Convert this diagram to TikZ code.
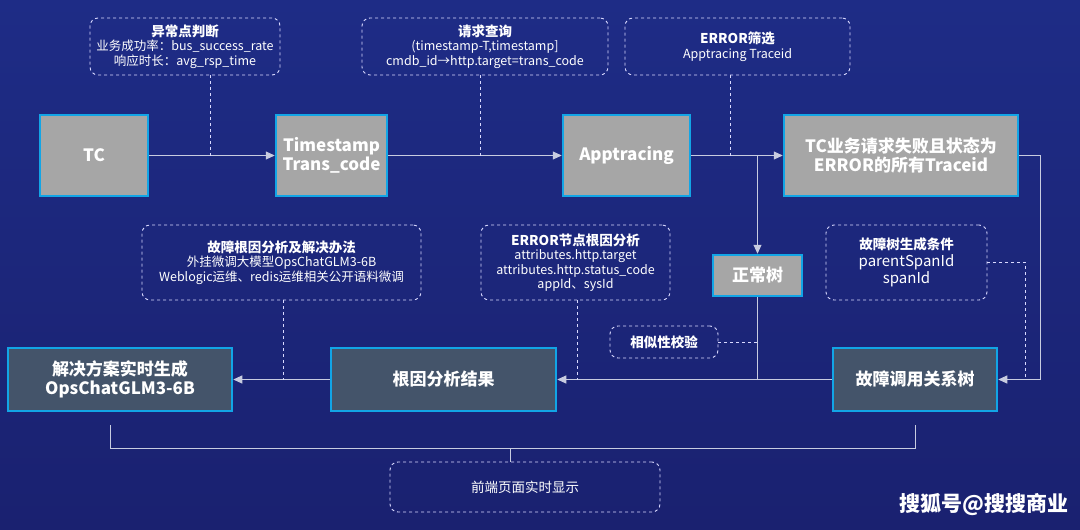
\documentclass[tikz,border=0pt]{standalone}
\usepackage{fontspec}
\setmainfont{Noto Sans CJK SC}
\usetikzlibrary{arrows.meta}
\definecolor{bgA}{HTML}{1E2C86}
\definecolor{bgB}{HTML}{1A2170}
\definecolor{cy}{HTML}{12A5E6}
\definecolor{gr}{HTML}{A6A6A6}
\definecolor{dk}{HTML}{44546A}
\definecolor{ln}{HTML}{C8CCE0}
\begin{document}
\begin{tikzpicture}[x=1pt,y=-1pt,
  solid box/.style={draw=cy,line width=2.5pt,text=white,font=\bfseries\fontsize{17}{19}\selectfont,align=center,inner sep=0},
  gbox/.style={solid box,fill=gr},
  dbox/.style={solid box,fill=dk},
  dbx/.style={draw=white!85!blue,dashed,line width=0.9pt,rounded corners=8pt,text=white,align=center,inner sep=0,font=\fontsize{12.5}{14.5}\selectfont},
  dl/.style={white!85!blue,dashed,line width=0.8pt},
  ar/.style={ln,line width=1pt,-{Triangle[width=8pt,length=9pt]}},
  pl/.style={ln,line width=1pt}]
\shade[top color=bgA,bottom color=bgB] (0,0) rectangle (1080,530);
\useasboundingbox (0,0) rectangle (1080,530);
% solid boxes
\node[gbox,minimum width=108,minimum height=81] (tc) at (94,155.5) {TC};
\node[gbox,minimum width=111,minimum height=81] (ts) at (331.5,155.5) {Timestamp\\Trans\_code};
\node[gbox,minimum width=127,minimum height=81] (ap) at (626.5,155.5) {Apptracing};
\node[gbox,minimum width=234,minimum height=81] (er) at (901,155.5) {TC业务请求失败且状态为\\ERROR的所有Traceid};
\node[gbox,minimum width=89,minimum height=41] (zc) at (757.5,275.5) {正常树};
\node[dbox,minimum width=224,minimum height=63] (jj) at (120,379.5) {解决方案实时生成\\OpsChatGLM3-6B};
\node[dbox,minimum width=225,minimum height=63] (gy) at (443.5,379.5) {根因分析结果};
\node[dbox,minimum width=164,minimum height=63] (gz) at (915,379.5) {故障调用关系树};
% dashed boxes
\node[dbx,minimum width=190,minimum height=57] (d1) at (185,46.5) {{\bfseries\fontsize{13.5}{15}\selectfont 异常点判断}\\业务成功率：bus\_success\_rate\\响应时长：avg\_rsp\_time};
\node[dbx,minimum width=246,minimum height=57] (d2) at (485,46.5) {{\bfseries\fontsize{13.5}{15}\selectfont 请求查询}\\(timestamp-T,timestamp]\\cmdb\_id→http.target=trans\_code};
\node[dbx,minimum width=225,minimum height=57] (d3) at (737.5,46.5) {{\bfseries\fontsize{13.5}{15}\selectfont ERROR筛选}\\Apptracing Traceid};
\node[dbx,minimum width=279,minimum height=75] (d4) at (281.5,262.5) {{\bfseries\fontsize{13.5}{15}\selectfont 故障根因分析及解决办法}\\外挂微调大模型OpsChatGLM3-6B\\Weblogic运维、redis运维相关公开语料微调};
\node[dbx,minimum width=189,minimum height=75] (d5) at (575.5,262.5) {{\bfseries\fontsize{13.5}{15}\selectfont ERROR节点根因分析}\\attributes.http.target\\attributes.http.status\_code\\appId、sysId};
\node[dbx,minimum width=108,minimum height=32,font=\bfseries\fontsize{13.5}{15}\selectfont] (d6) at (664,342) {相似性校验};
\node[dbx,minimum width=161,minimum height=75,font=\fontsize{15}{17}\selectfont] (d7) at (906.5,262.5) {{\bfseries\fontsize{13.5}{16}\selectfont 故障树生成条件}\\parentSpanId\\spanId};
\node[dbx,minimum width=270,minimum height=50,font=\fontsize{13.5}{15}\selectfont] (d8) at (525,487) {前端页面实时显示};
% main arrows
\draw[ar] (tc.east) -- (ts.west);
\draw[ar] (ts.east) -- (ap.west);
\draw[ar] (ap.east) -- (er.west);
\coordinate (j1) at (210,155.5);
\coordinate (j2) at (480,155.5);
\coordinate (j3) at (730,155.5);
\draw[dl] (d1.south -| j1) -- (j1);
\draw[dl] (d2.south -| j2) -- (j2);
\draw[dl] (d3.south -| j3) -- (j3);
\coordinate (k1) at (757.5,155.5);
\draw[ar] (k1) -- (zc.north);
\coordinate (r1) at (1040,155.5);
\coordinate (r2) at (1040,379.5);
\draw[pl] (er.east) -- (r1) -- (r2);
\draw[ar] (r2) -- (gz.east);
\coordinate (q1) at (1025,262);
\coordinate (q2) at (1025,379.5);
\draw[dl] (d7.east |- q1) -- (q1) -- (q2);
\coordinate (m1) at (757.5,379.5);
\draw[pl] (zc.south) -- (m1);
\draw[ar] (gz.west) -- (gy.east);
\draw[dl] (d6.east) -- (d6.east -| m1);
\coordinate (e1) at (577,379.5);
\draw[dl] (d5.south -| e1) -- (e1);
\draw[ar] (gy.west) -- (jj.east);
\coordinate (f1) at (283,379.5);
\draw[dl] (d4.south -| f1) -- (f1);
% bracket
\coordinate (b1) at (110,425);
\coordinate (b2) at (110,448);
\coordinate (b3) at (915,448);
\coordinate (b4) at (915,425);
\coordinate (bm) at (510,448);
\draw[pl,line width=0.8pt] (b1) -- (b2) -- (b3) -- (b4);
\draw[pl,line width=0.8pt] (bm) -- (bm |- d8.north);
\node[text=white,font=\bfseries\fontsize{21}{23}\selectfont,anchor=east] (wm) at (1072,505) {搜狐号@搜搜商业};
\end{tikzpicture}
\end{document}
